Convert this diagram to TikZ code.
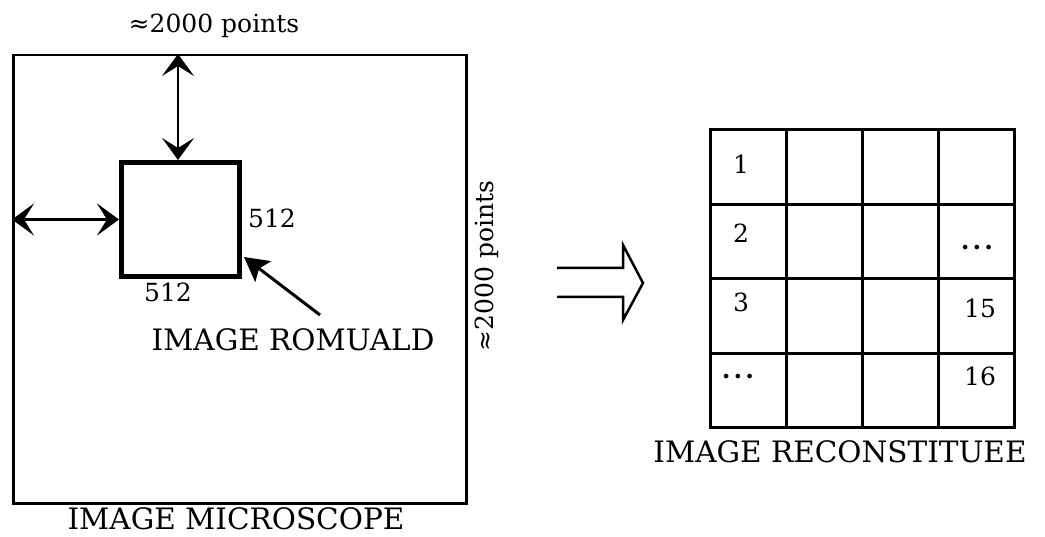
\documentclass[tikz,border=0pt]{standalone}
\usepackage{fontspec}
\setmainfont{DejaVu Serif}
\usetikzlibrary{arrows.meta}
\begin{document}
\begin{tikzpicture}[x=1pt,y=-1pt,
  lbl/.style={font=\fontsize{29.5}{32}\selectfont, inner sep=0pt},
  small/.style={font=\fontsize{25}{28}\selectfont, inner sep=0pt},
  barb/.style={line width=2.5pt, {Stealth[length=22pt,width=32pt,inset=10pt]}-{Stealth[length=22pt,width=32pt,inset=10pt]}},
  cell/.style={draw, line width=3pt, minimum width=76pt, minimum height=74.5pt, inner sep=0pt, outer sep=0pt, anchor=north west}
]
\useasboundingbox (0,0) rectangle (1045,537);
% big rectangle
\node[draw, line width=2.5pt, minimum width=453pt, minimum height=448pt, inner sep=0pt, anchor=north west] (big) at (12,54) {};
% small square
\node[draw, line width=5pt, minimum width=118pt, minimum height=114pt, inner sep=0pt, anchor=north west] (sq) at (119,160) {};
\draw[barb] (sq.north -| 178,0) -- (178,54);
\draw[barb] (sq.west) -- (sq.west -| big.west);
\node[small] (s1) at (272,218) {512};
\node[small] (s2) at (168,292) {512};
\node[lbl] (rom) at (293,340) {IMAGE ROMUALD};
\coordinate (tipr) at (244,257);
\draw[line width=3pt, -{Stealth[length=24pt,width=26pt,inset=5pt]}] (320,315) -- (tipr);
\node[lbl] (mic) at (236,519) {IMAGE MICROSCOPE};
\node[small, anchor=base] (top) at (214,33) {≈2000 points};
\node[small, rotate=90, anchor=base] (side) at (493,266) {≈2000 points};
% hollow arrow
\draw[line width=2.5pt, line join=miter] (557,268) -- (623,268) -- (623,245) -- (643,283) -- (623,320) -- (623,297) -- (557,297);
% grid
\foreach \r in {0,1,2,3} {
  \foreach \c in {0,1,2,3} {
    \node[cell] (c\r\c) at ({710+76*\c},{130+74.5*\r}) {};
  }
}
\node[small] (n1) at (741,164) {1};
\node[small] (n2) at (741,233) {2};
\node[small] (n3) at (741,302) {3};
\node[small, anchor=base] (n4) at (738,379) {\textbf{.\hspace{3pt}.\hspace{3pt}.}};
\node[small, anchor=base] (n5) at (977,250) {\textbf{.\hspace{3pt}.\hspace{3pt}.}};
\node[small] (n15) at (980,308) {15};
\node[small] (n16) at (980,376) {16};
\node[lbl] (rec) at (840,452) {IMAGE RECONSTITUEE};
\end{tikzpicture}
\end{document}
